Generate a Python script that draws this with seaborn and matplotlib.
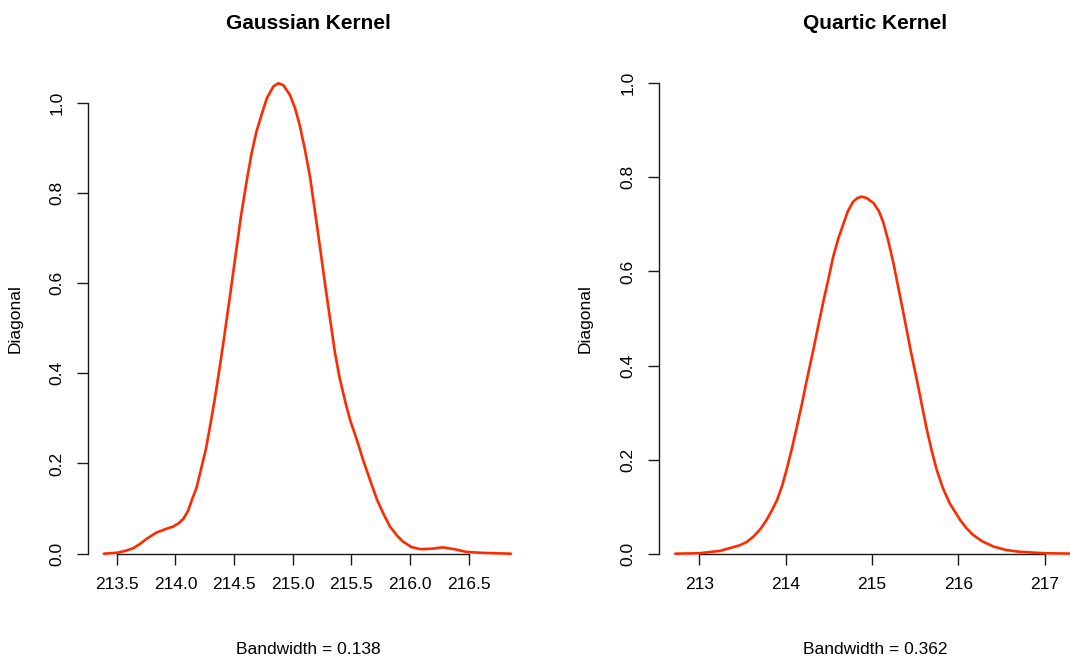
import matplotlib
matplotlib.use("Agg")
import matplotlib.pyplot as plt
import seaborn as sns
import pandas as pd

sns.set_style("white")
plt.rcParams["font.family"] = ["Liberation Sans", "DejaVu Sans"]

# Density estimates of the note measurements
gauss_x = [213.39, 213.50, 213.57, 213.64, 213.70, 213.76, 213.84, 213.92, 213.98,
           214.03, 214.07, 214.11, 214.14, 214.18, 214.21, 214.26, 214.30, 214.34,
           214.37, 214.41, 214.47, 214.52, 214.56, 214.61, 214.65, 214.69, 214.74,
           214.78, 214.835, 214.878, 214.92, 214.977, 215.02, 215.06, 215.105, 215.15,
           215.21, 215.28, 215.33, 215.36, 215.40, 215.45, 215.49, 215.55, 215.60,
           215.66, 215.72, 215.78, 215.83, 215.89, 215.94, 216.01, 216.09, 216.18,
           216.28, 216.38, 216.48, 216.60, 216.72, 216.86]
gauss_y = [0.000, 0.002, 0.006, 0.012, 0.022, 0.034, 0.047, 0.055, 0.060,
           0.068, 0.078, 0.096, 0.119, 0.146, 0.178, 0.232, 0.289, 0.350,
           0.400, 0.470, 0.580, 0.675, 0.750, 0.830, 0.888, 0.935, 0.978,
           1.010, 1.036, 1.043, 1.039, 1.017, 0.988, 0.950, 0.895, 0.832,
           0.722, 0.590, 0.500, 0.446, 0.390, 0.335, 0.296, 0.250, 0.208,
           0.163, 0.119, 0.085, 0.060, 0.040, 0.027, 0.015, 0.010, 0.011,
           0.014, 0.010, 0.004, 0.002, 0.001, 0.000]

quart_x = [212.72, 213.00, 213.24, 213.47, 213.55, 213.63, 213.71, 213.78, 213.84,
           213.90, 213.96, 214.01, 214.07, 214.13, 214.19, 214.24, 214.32, 214.38,
           214.44, 214.50, 214.55, 214.61, 214.67, 214.72, 214.78, 214.83, 214.88,
           214.94, 215.02, 215.08, 215.13, 215.19, 215.25, 215.30, 215.36, 215.41,
           215.45, 215.52, 215.58, 215.63, 215.69, 215.75, 215.82, 215.90, 216.02,
           216.09, 216.17, 216.28, 216.41, 216.55, 216.71, 217.00, 217.36]
quart_y = [0.000, 0.001, 0.006, 0.018, 0.025, 0.037, 0.053, 0.072, 0.092,
           0.114, 0.145, 0.178, 0.222, 0.270, 0.320, 0.365, 0.433, 0.487,
           0.539, 0.588, 0.631, 0.670, 0.702, 0.728, 0.748, 0.756, 0.759,
           0.756, 0.745, 0.728, 0.705, 0.664, 0.616, 0.570, 0.515, 0.468,
           0.430, 0.369, 0.314, 0.268, 0.220, 0.178, 0.140, 0.107, 0.072,
           0.055, 0.040, 0.026, 0.015, 0.008, 0.004, 0.001, 0.000]

gauss_xticks = [213.5, 214.0, 214.5, 215.0, 215.5, 216.0, 216.5]
quart_xticks = [213, 214, 215, 216, 217]
yticks = [0.0, 0.2, 0.4, 0.6, 0.8, 1.0]

panels = [
    dict(x=gauss_x, y=gauss_y, title="Gaussian Kernel", xlabel="Bandwidth = 0.138",
         xticks=gauss_xticks, xfmt="{:.1f}", xlim=(213.255, 217.006), ylim=(0, 1.043),
         rect=[88 / 1070, 103.3 / 657, 440 / 1070, 470.4 / 657], ylab_x=-0.148),
    dict(x=quart_x, y=quart_y, title="Quartic Kernel", xlabel="Bandwidth = 0.362",
         xticks=quart_xticks, xfmt="{:d}", xlim=(212.533, 217.548), ylim=(0, 1.0),
         rect=[659 / 1070, 103.3 / 657, 433 / 1070, 470.4 / 657], ylab_x=-0.153),
]

fig = plt.figure(figsize=(10.70, 6.57), dpi=100)
axis_col = "#1a1a1a"
title_y = 1 + (83.3 - 23.5) / 470.4

for p in panels:
    ax = fig.add_axes(p["rect"])
    df = pd.DataFrame({"x": p["x"], "y": p["y"]})
    ax.axhline(0, color="#ececec", lw=1.0, zorder=1)
    sns.lineplot(data=df, x="x", y="y", ax=ax, color="#ff2a00", lw=1.9,
                 sort=False, estimator=None, zorder=4, clip_on=False)
    ax.set_xlim(*p["xlim"])
    ax.set_ylim(*p["ylim"])
    ax.set_xticks(p["xticks"])
    ax.set_xticklabels([p["xfmt"].format(v) for v in p["xticks"]])
    ax.set_yticks(yticks)
    ax.set_yticklabels([f"{v:.1f}" for v in yticks], rotation=90, va="center")
    for side in ("top", "right"):
        ax.spines[side].set_visible(False)
    ax.spines["left"].set_bounds(0, 1.0)
    ax.spines["bottom"].set_bounds(p["xticks"][0], p["xticks"][-1])
    for side in ("left", "bottom"):
        ax.spines[side].set_color(axis_col)
        ax.spines[side].set_linewidth(1.0)
        ax.spines[side].set_zorder(3)
    ax.tick_params(axis="both", which="major", bottom=True, left=True,
                   direction="out", length=8, width=1.0, color=axis_col,
                   labelsize=12.5, labelcolor="black", pad=9)
    ax.set_xlabel(p["xlabel"], fontsize=12.5, va="top", color="black")
    ax.xaxis.set_label_coords(0.5, -0.187)
    ax.set_ylabel("Diagonal", fontsize=12.5, color="black")
    ax.yaxis.set_label_coords(p["ylab_x"], 0.5)
    ax.set_title(p["title"], fontsize=15, fontweight="bold", color="black",
                 y=title_y, va="center", pad=0)

fig.savefig("out.png", dpi=100)
